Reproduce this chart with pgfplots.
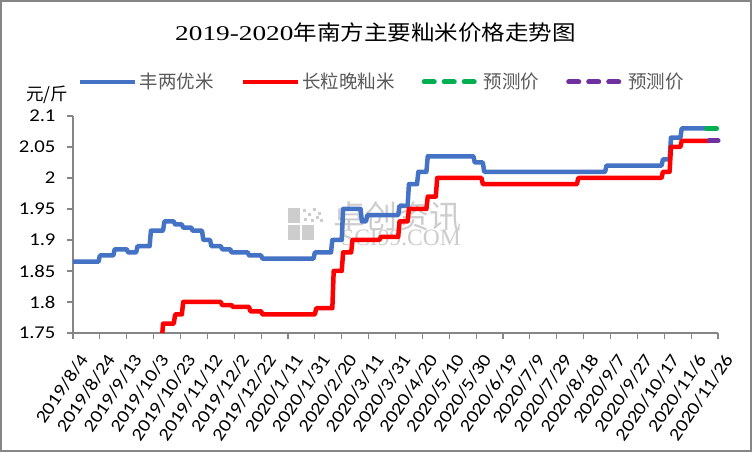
\documentclass[border=0pt]{standalone}
\usepackage{fontspec}
\setmainfont{Carlito}[FakeStretch=1.15]
\newfontfamily\cjk{Noto Sans CJK SC}
\newfontfamily\titlecjk{Noto Sans CJK SC}[FakeStretch=1.12]
\newfontfamily\titledigits{Liberation Serif}[FakeStretch=1.3]
\newfontfamily\wmserif{Liberation Serif}
\usepackage{pgfplots}
\pgfplotsset{compat=1.18}
\definecolor{cblue}{HTML}{4472C4}
\definecolor{cred}{HTML}{FF0000}
\definecolor{cgreen}{HTML}{00B050}
\definecolor{cpurple}{HTML}{7030A0}
\definecolor{axgray}{HTML}{868686}
\definecolor{legendgray}{HTML}{595959}
\definecolor{wm}{HTML}{CDCDCD}
\begin{document}
\begin{tikzpicture}[x=1pt,y=1pt]
\useasboundingbox (0,0) rectangle (752,452);
\fill[white] (0,0) rectangle (752,452);
% watermark
\fill[wm] (288,229) rectangle (300,244);
\fill[wm] (288,212) rectangle (300,227);
\fill[wm] (302,212) rectangle (314,227);
\foreach \a/\b in {303/240,308/236,313/241,318/237,304/231,311/230,316/233,320/230}{\fill[wm] (\a,\b) rectangle ++(3,3);}
\node[wm, font=\cjk\fontsize{32}{34}\selectfont, anchor=west, inner sep=0pt] at (333,235) {卓创资讯};
\node[wm, font=\wmserif\fontsize{23.5}{25}\selectfont, anchor=west, inner sep=0pt] at (341,214) {SCI99.COM};
% title
\node[font=\fontsize{21}{24}\selectfont, inner sep=0pt] at (375.5,419) {{\titledigits 2019-2020}{\titlecjk 年南方主要籼米价格走势图}};
% unit
\node[font=\cjk\fontsize{17.5}{20}\selectfont, inner sep=0pt] at (47,357) {元/斤};
\begin{axis}[
  at={(73pt,119pt)}, anchor=south west,
  scale only axis, width=645pt, height=217pt,
  xmin=0, xmax=480, ymin=1.75, ymax=2.1,
  clip=false,
  axis x line=bottom, axis y line=left,
  axis line style={-, draw=axgray, line width=1.2pt},
  tick style={draw=axgray, line width=1.2pt},
  tick align=outside, major tick length=6pt,
  xtick={0,20,...,480},
  xticklabels={2019/8/4,2019/8/24,2019/9/13,2019/10/3,2019/10/23,2019/11/12,2019/12/2,2019/12/22,2020/1/11,2020/1/31,2020/2/20,2020/3/11,2020/3/31,2020/4/20,2020/5/10,2020/5/30,2020/6/19,2020/7/9,2020/7/29,2020/8/18,2020/9/7,2020/9/27,2020/10/17,2020/11/6,2020/11/26},
  ytick={1.75,1.8,1.85,1.9,1.95,2,2.05,2.1},
  yticklabels={1.75,1.8,1.85,1.9,1.95,2,2.05,2.1},
  ticklabel style={font=\fontsize{18}{20}\selectfont, text=black},
  yticklabel style={xshift=-8pt},
  xticklabel style={xshift=11pt, yshift=-17pt, rotate=56, anchor=east, inner sep=0pt},
  legend style={at={(axis description cs:0.0078,1.157)}, anchor=west, draw=none, fill=none, inner sep=0pt,
    font=\cjk\fontsize{18.5}{20}\selectfont, text=legendgray,
    /tikz/every even column/.append style={column sep=25pt}},
  legend columns=4, legend cell align=left,
  legend image code/.code={\draw[#1] (0pt,0pt) -- (55pt,0pt);},
]
\addplot[cblue, line width=4.5pt, line join=round] coordinates {
(0,1.865) (19,1.865) (20,1.875) (30,1.875) (31,1.885) (40,1.885) (41,1.88) (47,1.88) (48,1.89) (57,1.89) (58,1.915) (67,1.915) (68,1.93) (75,1.93) (76,1.925) (81,1.925) (82,1.92) (88,1.92) (89,1.915) (96,1.915) (97,1.90) (102,1.90) (103,1.89) (110,1.89) (111,1.885) (117,1.885) (118,1.88) (130,1.88) (131,1.875) (140,1.875) (141,1.87) (179,1.87) (180,1.88) (192,1.88) (193,1.90) (200,1.90) (201,1.95) (214,1.95) (215,1.93) (218,1.93) (219,1.94) (242,1.94) (243,1.955) (249,1.955) (250,1.99) (256,1.99) (257,2.01) (263,2.01) (264,2.035) (298,2.035) (299,2.025) (305,2.025) (306,2.01) (396,2.01) (397,2.02) (438,2.02) (439,2.03) (444,2.03) (445,2.065) (452,2.065) (453,2.08) (472,2.08)
};
\addlegendentry{丰两优米}
\addplot[cred, line width=4.5pt, line join=round] coordinates {
(66.5,1.75) (67,1.765) (75,1.765) (76,1.78) (81,1.78) (82,1.80) (110,1.80) (111,1.795) (118,1.795) (119,1.792) (131,1.792) (132,1.785) (140,1.785) (141,1.78) (180,1.78) (181,1.79) (193,1.79) (194,1.85) (200,1.85) (201,1.88) (207,1.88) (208,1.90) (228,1.90) (229,1.905) (242,1.905) (243,1.93) (249,1.93) (250,1.95) (263,1.95) (264,1.97) (270,1.97) (271,2.0) (304,2.0) (305,1.99) (375,1.99) (376,2.0) (438,2.0) (439,2.01) (444,2.01) (445,2.05) (452,2.05) (453,2.06) (473.5,2.06)
};
\addlegendentry{长粒晚籼米}
\addplot[cgreen, line width=5pt, line cap=round, dash pattern=on 10pt off 10pt] coordinates {(471.5,2.08) (480,2.08)};
\addlegendentry{预测价}
\addplot[cpurple, line width=5pt, line cap=round, dash pattern=on 10pt off 10pt] coordinates {(473.5,2.06) (480,2.06)};
\addlegendentry{预测价}
\end{axis}
\draw[axgray, line width=2pt] (1,1) rectangle (751,451);
\end{tikzpicture}
\end{document}
